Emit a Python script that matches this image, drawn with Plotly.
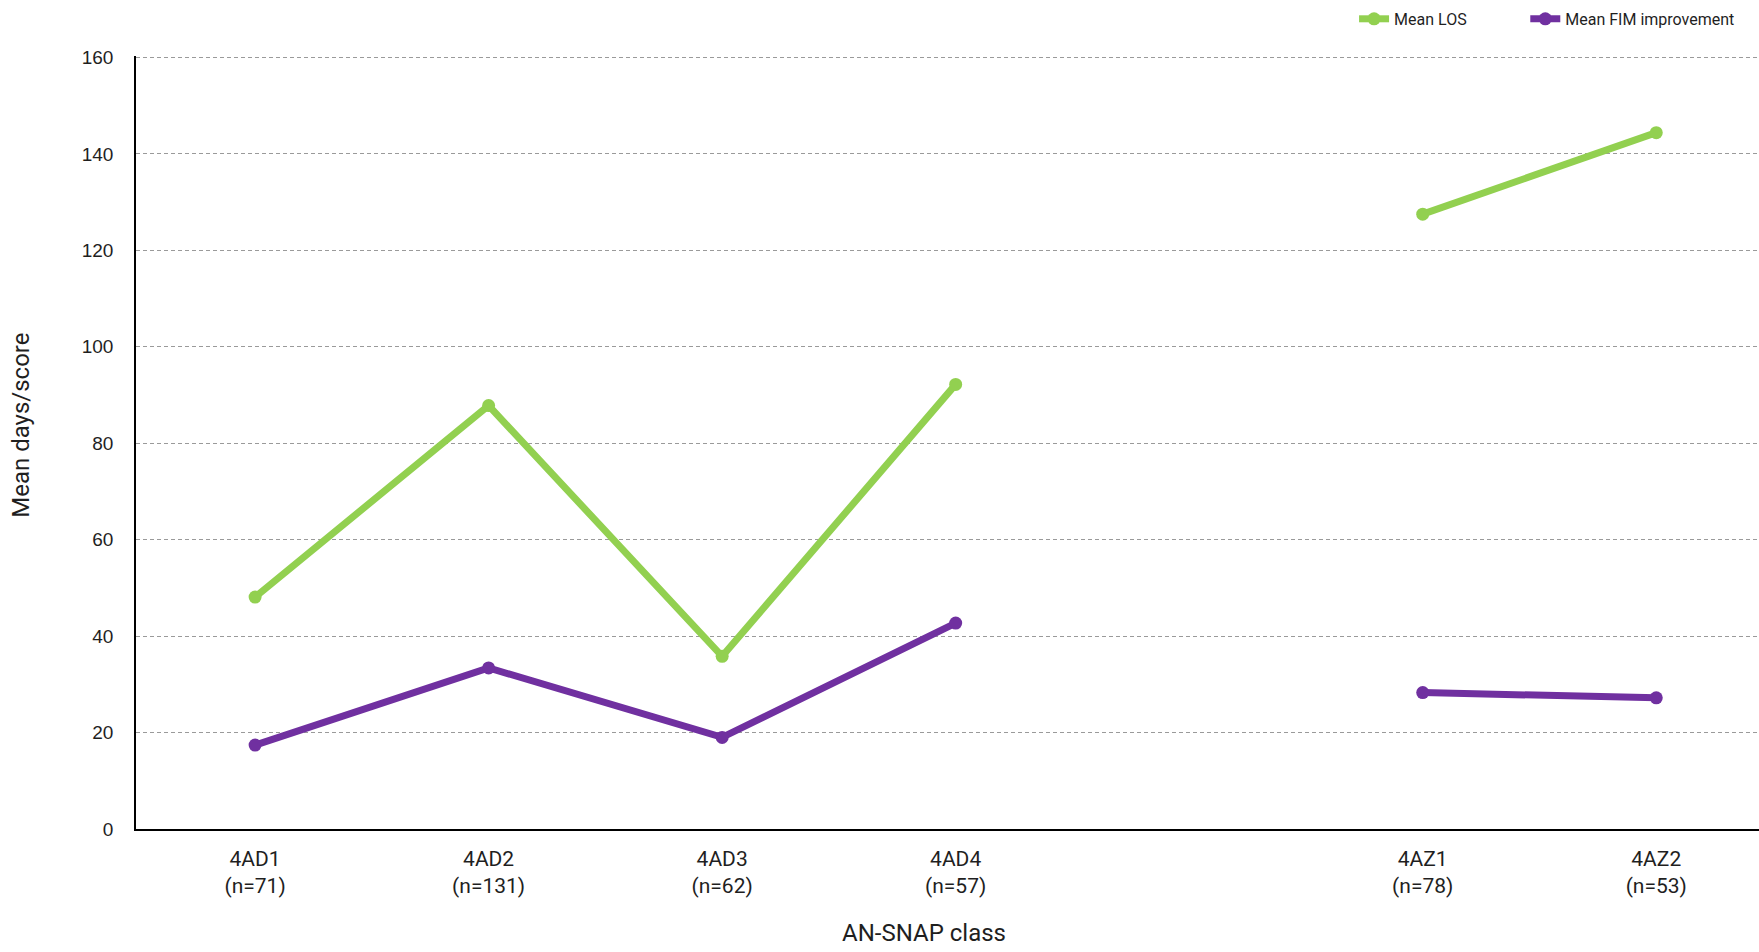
import plotly.graph_objects as go

categories = ["4AD1<br>(n=71)", "4AD2<br>(n=131)", "4AD3<br>(n=62)", "4AD4<br>(n=57)", " ",
              "4AZ1<br>(n=78)", "4AZ2<br>(n=53)"]
mean_los = [48.1, 87.8, 35.8, 92.2, None, 127.5, 144.4]
mean_fim = [17.4, 33.4, 19.0, 42.7, None, 28.3, 27.2]
y_ticks = [0, 20, 40, 60, 80, 100, 120, 140, 160]

NARROW = "Liberation Sans Narrow, Arial Narrow, Roboto, sans-serif"
GREEN = "#92D050"
PURPLE = "#7030A0"
TXT = "#1f1f1f"

fig = go.Figure()
fig.add_trace(go.Scatter(x=categories, y=mean_los, name="Mean LOS", mode="lines+markers",
                         line=dict(color=GREEN, width=7), marker=dict(color=GREEN, size=13),
                         connectgaps=False, legend="legend"))
fig.add_trace(go.Scatter(x=categories, y=mean_fim, name="Mean FIM improvement", mode="lines+markers",
                         line=dict(color=PURPLE, width=7), marker=dict(color=PURPLE, size=13),
                         connectgaps=False, legend="legend2"))

fig.add_annotation(text="Mean days/score", textangle=-90, xref="paper", yref="paper",
                   x=-0.071, y=0.5226, xanchor="center", yanchor="middle", showarrow=False,
                   font=dict(family=NARROW, size=24, color=TXT))
fig.add_annotation(text="AN-SNAP class", xref="paper", yref="paper",
                   x=0.4855, y=-0.135, xanchor="center", yanchor="middle", showarrow=False,
                   font=dict(family=NARROW, size=24, color=TXT))

legend_common = dict(orientation="h", y=1.048, yanchor="middle", xanchor="left",
                     font=dict(family=NARROW, size=16, color=TXT), bgcolor="rgba(0,0,0,0)")

fig.update_layout(
    width=1759, height=952,
    margin=dict(l=136, r=0, t=56, b=123, autoexpand=False),
    paper_bgcolor="white", plot_bgcolor="white",
    font=dict(family=NARROW, color=TXT),
    showlegend=True,
    legend=dict(x=0.7505, **legend_common),
    legend2=dict(x=0.8560, **legend_common),
    xaxis=dict(type="category", categoryorder="array", categoryarray=categories,
               range=[-0.51, 6.44], showline=True, linecolor="black", linewidth=1.5,
               showgrid=False, ticks="outside", ticklen=10, tickcolor="rgba(0,0,0,0)",
               tickfont=dict(family=NARROW, size=21, color=TXT)),
    yaxis=dict(range=[0, 160.3], tickvals=y_ticks, showline=True, linecolor="black", linewidth=1.5,
               showgrid=True, gridcolor="#9a9a9a", griddash="4px,3px", gridwidth=1,
               zeroline=False, ticks="outside", ticklen=17, tickcolor="rgba(0,0,0,0)",
               tickfont=dict(family="Liberation Sans, Arial, sans-serif", size=19, color=TXT)),
)

fig.write_html("out.html", config={"displayModeBar": False},
               post_script="document.body.style.margin='0';document.body.style.overflow='hidden';")
